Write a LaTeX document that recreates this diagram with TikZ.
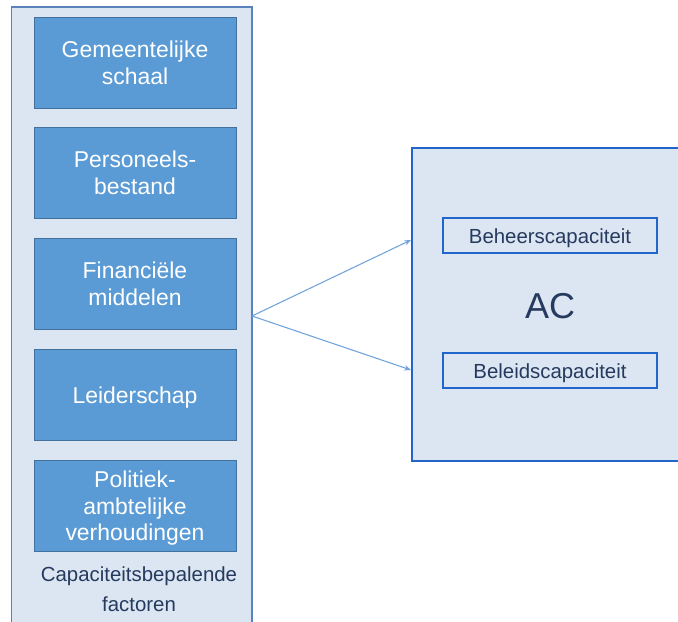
\documentclass[tikz,border=0pt]{standalone}
\usepackage{fontspec}
\setmainfont{Liberation Sans}
\usetikzlibrary{arrows.meta}
\definecolor{panelfill}{HTML}{DCE6F2}
\definecolor{panelline}{HTML}{5A83BC}
\definecolor{factorfill}{HTML}{5B9BD5}
\definecolor{factorline}{HTML}{41719C}
\definecolor{acline}{HTML}{2266CC}
\definecolor{darktext}{HTML}{253A5E}
\definecolor{arrowblue}{HTML}{6FA3DC}
\tikzset{
  panelbox/.style={draw=panelline, fill=panelfill, line width=0.8pt,
    minimum width=180.4pt, minimum height=489.75pt, inner sep=0pt},
  factor/.style={draw=factorline, fill=factorfill, line width=0.6pt,
    minimum width=151.5pt, minimum height=68.25pt, inner sep=0pt,
    text depth=0pt,
    text=white, align=center, font=\fontsize{17.2}{20}\selectfont},
  acbox/.style={draw=acline, fill=panelfill, line width=1.7pt,
    minimum width=222pt, minimum height=234.75pt, inner sep=0pt},
  capbox/.style={draw=acline, fill=panelfill, line width=1.5pt,
    minimum width=160.5pt, minimum height=26.25pt, inner sep=0pt,
    text height=12.5pt, text depth=0pt,
    text=darktext, font=\fontsize{15.3}{18}\selectfont},
  caption/.style={text=darktext, align=center,
    font=\fontsize{15.3}{22.5}\selectfont},
  link/.style={draw=arrowblue, line width=0.8pt,
    -{Stealth[length=5pt,width=4pt]}}
}
\begin{document}
\begin{tikzpicture}[x=0.75pt, y=-0.75pt]
  \useasboundingbox (0,0) rectangle (678,621);
  \clip (0,0) rectangle (678,621);

  % left column with the capacity factors
  \node[panelbox] (panel) at (131.75,333.5) {};
  \node[factor] (f1) at (135,62.5) {Gemeentelijke\\schaal};
  \node[factor] (f2) at (135,173) {Personeels-\\bestand};
  \node[factor] (f3) at (135,284) {Financiële\\middelen};
  \node[factor] (f4) at (135,395) {Leiderschap};
  \node[factor] (f5) at (135,506) {Politiek-\\ambtelijke\\verhoudingen};
  \node[caption] (cap) at (139,589) {Capaciteitsbepalende\\factoren};

  % right block: administrative capacity
  \node[acbox] (ac) at (560,304.5) {};
  \node[capbox] (beheer) at (550,235.5) {Beheerscapaciteit};
  \node[capbox] (beleid) at (550,370) {Beleidscapaciteit};
  \node[text=darktext, font=\fontsize{27}{30}\selectfont] (aclabel) at (550,306) {AC};

  % connectors
  \coordinate (src) at (252,316);
  \coordinate (tgtA) at (411,240);
  \coordinate (tgtB) at (411,370);
  \draw[link] (src) -- (tgtA);
  \draw[link] (src) -- (tgtB);
\end{tikzpicture}
\end{document}
